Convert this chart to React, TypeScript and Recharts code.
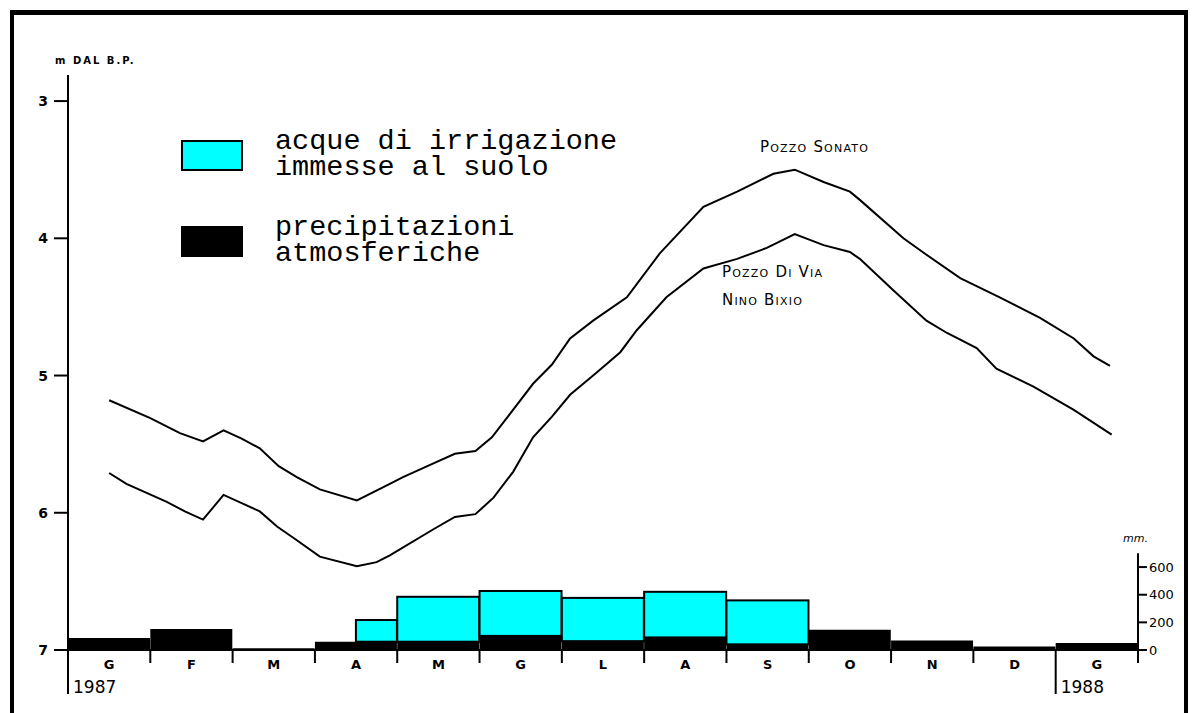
import { Bar, ComposedChart, Line, ReferenceLine, XAxis, YAxis } from "recharts";

// months Jan 1987 .. Jan 1988 (Italian initials)
const MONTHS = ["G", "F", "M", "A", "M", "G", "L", "A", "S", "O", "N", "D", "G"];
// precipitazioni atmosferiche, mm per month
const PRECIPITATION_MM = [87, 152, 12, 60, 60, 102, 64, 91, 41, 146, 69, 25, 50];
// acque di irrigazione immesse al suolo, mm per month
const IRRIGATION_MM = [0, 0, 0, 157, 325, 325, 313, 330, 318, 0, 0, 0, 0];
// irrigation begins mid April (months counted from 1 Jan 1987)
const IRRIGATION_START = 3.5;

const YEARS = [
  { t: 0, label: "1987" },
  { t: 12, label: "1988" },
];
const DEPTH_TICKS = [3, 4, 5, 6, 7];
const MM_TICKS = [0, 200, 400, 600];

// [months from 1 Jan 1987, depth in m below ground]
const POZZO_SONATO: [number, number][] = [
  [0.5, 5.18], [1.0, 5.31], [1.36, 5.42], [1.64, 5.48], [1.89, 5.4],
  [2.11, 5.46], [2.33, 5.53], [2.56, 5.66], [2.78, 5.74], [3.06, 5.83],
  [3.51, 5.91], [3.91, 5.79], [4.07, 5.74], [4.44, 5.64], [4.7, 5.57],
  [4.95, 5.55], [5.15, 5.45], [5.37, 5.28], [5.65, 5.06], [5.88, 4.92],
  [6.1, 4.73], [6.38, 4.6], [6.79, 4.43], [7.19, 4.11], [7.72, 3.77],
  [8.13, 3.66], [8.57, 3.53], [8.83, 3.5], [9.18, 3.59], [9.5, 3.66],
  [9.62, 3.72], [10.15, 4.0], [10.43, 4.12], [10.84, 4.29], [11.32, 4.43],
  [11.81, 4.58], [12.22, 4.73], [12.46, 4.86], [12.66, 4.93],
];

const POZZO_NINO_BIXIO: [number, number][] = [
  [0.5, 5.71], [0.71, 5.79], [1.2, 5.92], [1.42, 5.99], [1.64, 6.05],
  [1.89, 5.87], [2.11, 5.93], [2.33, 5.99], [2.54, 6.1], [2.78, 6.2],
  [3.06, 6.32], [3.51, 6.39], [3.75, 6.36], [3.91, 6.31], [4.44, 6.12],
  [4.7, 6.03], [4.95, 6.01], [5.17, 5.89], [5.41, 5.7], [5.65, 5.45],
  [5.88, 5.3], [6.1, 5.14], [6.42, 4.98], [6.71, 4.83], [6.91, 4.67],
  [7.27, 4.43], [7.72, 4.22], [8.13, 4.15], [8.49, 4.07], [8.83, 3.97],
  [9.18, 4.05], [9.5, 4.1], [9.62, 4.15], [10.03, 4.38], [10.43, 4.6],
  [10.68, 4.69], [11.04, 4.8], [11.28, 4.95], [11.73, 5.08], [12.22, 5.25],
  [12.68, 5.43],
];

const monthRows = MONTHS.map((month, i) => ({
  month,
  precip: PRECIPITATION_MM[i],
  irrig: IRRIGATION_MM[i],
}));
const sonatoData = POZZO_SONATO.map(([t, d]) => ({ t, d }));
const bixioData = POZZO_NINO_BIXIO.map(([t, d]) => ({ t, d }));
// month boundaries plus month centres (for the letters)
const timeTicks = Array.from({ length: MONTHS.length * 2 + 1 }, (_, i) => i / 2);

const HAND = "DejaVu Sans, sans-serif";
const MONO = "Liberation Mono, Courier New, monospace";

const TimeTick = (props: any) => {
  const { x, y, payload } = props;
  const v = payload.value as number;
  if (v % 1 !== 0) {
    return (
      <text
        x={x}
        y={y + 19}
        textAnchor="middle"
        fontSize={13}
        fontWeight="bold"
        fontFamily={HAND}
        fill="#000"
      >
        {MONTHS[Math.floor(v)]}
      </text>
    );
  }
  const year = YEARS.find((yr) => yr.t === v);
  return (
    <g>
      <line x1={x} y1={y} x2={x} y2={y + (year ? 44 : 13)} stroke="#000" strokeWidth={2} />
      {year && (
        <text x={x + 5} y={y + 43} fontSize={17} fontFamily={HAND} fill="#000">
          {year.label}
        </text>
      )}
    </g>
  );
};

const IrrigationBar = (props: any) => {
  const { x, y, width, height, index } = props;
  if (!height || height <= 0) return null;
  const skip = Math.min(1, Math.max(0, IRRIGATION_START - index));
  return (
    <rect
      x={x + width * skip}
      y={y}
      width={width * (1 - skip)}
      height={height}
      fill="#00ffff"
      stroke="#000"
      strokeWidth={2}
    />
  );
};

const legendBox = (top: number, fill: string) => ({
  position: "absolute" as const,
  left: 181,
  top,
  width: 62,
  height: 31,
  background: fill,
  border: "2px solid #000",
  boxSizing: "border-box" as const,
});

const legendText = (top: number) => ({
  position: "absolute" as const,
  left: 275,
  top,
  fontFamily: MONO,
  fontSize: 28.5,
  lineHeight: "26px",
  color: "#000",
  whiteSpace: "pre" as const,
});

const wellLabel = (left: number, top: number) => ({
  position: "absolute" as const,
  left,
  top,
  fontFamily: HAND,
  fontSize: 15,
  fontVariant: "small-caps" as const,
  letterSpacing: 1.2,
  color: "#000",
  whiteSpace: "nowrap" as const,
});

export default function App() {
  return (
    <div
      style={{
        position: "absolute",
        left: 0,
        top: 0,
        width: 1196,
        height: 713,
        background: "#fff",
        overflow: "hidden",
      }}
    >
      <ComposedChart
        width={1196}
        height={713}
        data={monthRows}
        margin={{ top: 75, right: 8, bottom: 62, left: 28 }}
        barCategoryGap={0}
        barGap={0}
      >
        <XAxis xAxisId="m" dataKey="month" orientation="top" height={0} hide />
        <XAxis
          xAxisId="t"
          type="number"
          dataKey="t"
          domain={[0, 13]}
          ticks={timeTicks}
          interval={0}
          tickLine={false}
          tickSize={0}
          tickMargin={0}
          tick={<TimeTick />}
          axisLine={{ stroke: "#000", strokeWidth: 2 }}
          height={1}
          allowDataOverflow
        />
        <YAxis
          yAxisId="depth"
          orientation="left"
          reversed
          domain={[2.81, 7]}
          ticks={DEPTH_TICKS}
          width={40}
          tickSize={14}
          tickMargin={6}
          axisLine={{ stroke: "#000", strokeWidth: 2 }}
          tickLine={{ stroke: "#000", strokeWidth: 2 }}
          tick={{ fontSize: 14, fontWeight: "bold", fontFamily: HAND, fill: "#000" }}
          allowDataOverflow
        />
        <YAxis
          yAxisId="mm"
          orientation="right"
          domain={[0, 4160]}
          ticks={MM_TICKS}
          width={50}
          tickSize={9}
          tickMargin={2}
          axisLine={false}
          tickLine={{ stroke: "#000", strokeWidth: 2 }}
          tick={{ fontSize: 13, fontFamily: HAND, fill: "#000", textAnchor: "start" }}
          allowDataOverflow
        />
        <Bar
          xAxisId="m"
          yAxisId="mm"
          dataKey="precip"
          stackId="h"
          fill="#000"
          isAnimationActive={false}
        />
        <Bar
          xAxisId="m"
          yAxisId="mm"
          dataKey="irrig"
          stackId="h"
          fill="#00ffff"
          shape={<IrrigationBar />}
          isAnimationActive={false}
        />
        <ReferenceLine
          xAxisId="t"
          yAxisId="mm"
          segment={[
            { x: 13, y: 0 },
            { x: 13, y: 700 },
          ]}
          stroke="#000"
          strokeWidth={2}
          ifOverflow="visible"
        />
        <Line
          xAxisId="t"
          yAxisId="depth"
          data={sonatoData}
          dataKey="d"
          type="linear"
          stroke="#000"
          strokeWidth={2}
          dot={false}
          isAnimationActive={false}
        />
        <Line
          xAxisId="t"
          yAxisId="depth"
          data={bixioData}
          dataKey="d"
          type="linear"
          stroke="#000"
          strokeWidth={2}
          dot={false}
          isAnimationActive={false}
        />
      </ComposedChart>

      <div
        style={{
          position: "absolute",
          left: 55,
          top: 55,
          fontFamily: HAND,
          fontSize: 10,
          fontWeight: "bold",
          letterSpacing: 2,
          color: "#000",
          whiteSpace: "nowrap",
        }}
      >
        m DAL B.P.
      </div>
      <div
        style={{
          position: "absolute",
          left: 1123,
          top: 532,
          fontFamily: HAND,
          fontSize: 11,
          fontStyle: "italic",
          color: "#000",
        }}
      >
        mm.
      </div>

      <div style={legendBox(140, "#00ffff")} />
      <div style={legendText(129)}>{"acque di irrigazione\nimmesse al suolo"}</div>
      <div style={legendBox(226, "#000")} />
      <div style={legendText(215)}>{"precipitazioni\natmosferiche"}</div>

      <div style={wellLabel(760, 138)}>Pozzo Sonato</div>
      <div style={wellLabel(722, 263)}>Pozzo Di Via</div>
      <div style={wellLabel(722, 291)}>Nino Bixio</div>

      <div
        style={{
          position: "absolute",
          left: 10,
          top: 10,
          width: 1178,
          height: 720,
          borderLeft: "4px solid #000",
          borderTop: "5px solid #000",
          borderRight: "4px solid #000",
          boxSizing: "border-box",
          pointerEvents: "none",
        }}
      />
    </div>
  );
}
